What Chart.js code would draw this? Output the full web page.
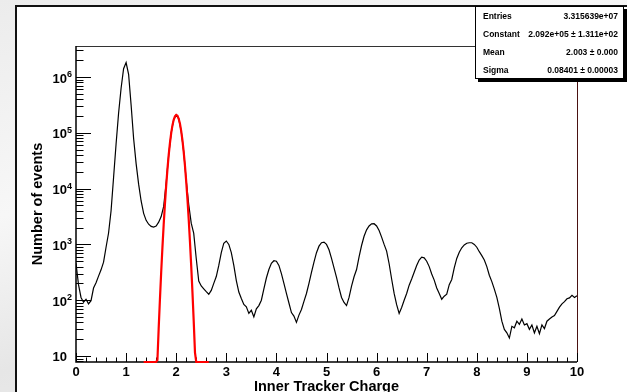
<!DOCTYPE html>
<html>
<head>
<meta charset="utf-8">
<script src="https://cdn.jsdelivr.net/npm/chart.js@4"></script>
<style>
  html, body { margin: 0; padding: 0; }
  body { width: 627px; height: 392px; overflow: hidden; position: relative;
         background: linear-gradient(160deg, #ececec, #f7f7f7 35%, #e6e6e6 60%, #f3f3f3); }
  #frame { position: absolute; left: 15px; top: 5px; width: 700px; height: 500px;
           border: 2px solid #111; background: #fff; }
  #myChart { position: absolute; left: 0; top: 0; }
</style>
</head>
<body>
<div id="frame"></div>
<canvas id="myChart" width="627" height="392"></canvas>
<script>

// DONNEES //

// histogram, bins of 0.05 from 0 to 10
const binWidth = 0.05;
const counts = [
  460, 190, 112, 92, 104, 86, 98, 165, 205, 270,
  350, 480, 890, 1600, 4000, 15800, 63000, 224000, 630000, 1410000,
  1820000, 1120000, 316000, 79000, 28000, 12000, 6000, 3600, 2700, 2300,
  2100, 2050, 2140, 2500, 3160, 4800, 12600, 40000, 100000, 172000,
  209000, 180000, 107000, 45500, 14000, 5200, 2400, 1580, 560, 220,
  180, 160, 142, 128, 150, 200, 265, 420, 710, 1050,
  1150, 1000, 710, 420, 225, 140, 107, 84, 76, 58,
  66, 50, 70, 80, 100, 160, 250, 355, 460, 510,
  500, 420, 300, 200, 132, 89, 60, 52, 40, 54,
  68, 95, 132, 200, 316, 480, 710, 930, 1070, 1100,
  1000, 800, 560, 380, 257, 166, 112, 91, 80, 112,
  178, 263, 355, 600, 955, 1400, 1820, 2140, 2340, 2350,
  2140, 1780, 1350, 1000, 760, 450, 240, 132, 83, 58,
  74, 100, 132, 186, 240, 316, 417, 525, 590, 575,
  500, 400, 295, 229, 166, 132, 104, 118, 128, 190,
  235, 380, 560, 725, 870, 980, 1050, 1070, 1070, 1000,
  890, 740, 630, 525, 400, 280, 215, 158, 112, 71,
  42, 30, 26, 21, 34, 32, 42, 37, 46, 36,
  38, 30, 36, 26, 34, 25, 36, 31, 42, 46,
  50, 53, 63, 75, 86, 94, 106, 110, 122, 112,
  120
];
const charge = counts.map((c, i) => +(i * binWidth).toFixed(2));

// gaussian fit curve (red), values under the axis floor sit on the axis
const yFloor = 7.8;
const fitCharge = [1.35, 1.6, 1.625, 1.65, 1.675, 1.7, 1.725, 1.75, 1.775, 1.8, 1.825, 1.85, 1.875, 1.9, 1.925, 1.95, 1.975,
  2.0, 2.025, 2.05, 2.075, 2.1, 2.125, 2.15, 2.175, 2.2, 2.225, 2.25, 2.275, 2.3, 2.325, 2.35, 2.375, 2.4, 2.65];
const fitCounts = [yFloor, yFloor, 8.4, 30.6, 102, 313, 877, 2245, 5262, 11290, 22160, 39800, 65500, 98700, 136000, 171500, 197900,
  209200, 202200, 178900, 144900, 107400, 72900, 45200, 25700, 13380, 6370, 2776, 1107, 404, 135, 41.3, 11.5, yFloor, yFloor];

const xTickLabels = ['0', '1', '2', '3', '4', '5', '6', '7', '8', '9', '10'];
const yTickLabels = ['10', '10^2', '10^3', '10^4', '10^5', '10^6'];

const statLabels = ['Entries', 'Constant', 'Mean', 'Sigma'];
const statValues = ['3.315639e+07', '2.092e+05 \u00b1 1.311e+02', '2.003 \u00b1 0.000', '0.08401 \u00b1 0.00003'];

const FONT = '"Liberation Sans", Arial, Helvetica, sans-serif';


// AXES FACON ROOT //

const rootStyle = {
  id: 'rootStyle',
  beforeDatasetsDraw(chart) {
    const { ctx, chartArea: a, scales: { x, y } } = chart;
    ctx.save();
    ctx.lineWidth = 1;
    ctx.strokeStyle = '#333';
    ctx.beginPath(); ctx.moveTo(a.left, a.top + 0.5); ctx.lineTo(a.right, a.top + 0.5); ctx.stroke();
    ctx.strokeStyle = '#4a1212';
    ctx.beginPath(); ctx.moveTo(a.right + 0.5, a.top); ctx.lineTo(a.right + 0.5, a.bottom); ctx.stroke();

    ctx.strokeStyle = '#000';
    ctx.lineWidth = 1.5;
    ctx.beginPath(); ctx.moveTo(a.left, a.top); ctx.lineTo(a.left, a.bottom); ctx.lineTo(a.right, a.bottom); ctx.stroke();

    // x ticks (inside)
    ctx.lineWidth = 1;
    for (let i = 0; i <= 50; i++) {
      const px = Math.round(x.getPixelForValue(i * 0.2)) + 0.5;
      const len = i % 5 === 0 ? 9 : 4.5;
      ctx.beginPath(); ctx.moveTo(px, a.bottom); ctx.lineTo(px, a.bottom - len); ctx.stroke();
    }
    // y ticks (inside), log
    for (let d = 0; d <= 6; d++) {
      for (let k = 1; k <= 9; k++) {
        const v = k * Math.pow(10, d);
        if (v < y.min || v > y.max) continue;
        const py = Math.round(y.getPixelForValue(v)) + 0.5;
        const len = k === 1 ? 15 : 7.5;
        ctx.beginPath(); ctx.moveTo(a.left, py); ctx.lineTo(a.left + len, py); ctx.stroke();
      }
    }
    ctx.restore();
  },
  afterDraw(chart) {
    const { ctx, chartArea: a, scales: { x, y } } = chart;
    ctx.save();
    ctx.fillStyle = '#000';

    // x labels
    ctx.font = 'bold 13px ' + FONT;
    ctx.textAlign = 'center';
    ctx.textBaseline = 'alphabetic';
    xTickLabels.forEach(t => {
      ctx.fillText(t, x.getPixelForValue(+t), 376);
    });

    // y labels 10^n
    yTickLabels.forEach((t, i) => {
      const py = y.getPixelForValue(Math.pow(10, i + 1));
      const parts = t.split('^');
      ctx.font = 'bold 13px ' + FONT;
      ctx.textAlign = 'right';
      ctx.fillText(parts[0], a.left - 9, py + 5.5);
      if (parts[1]) {
        ctx.font = 'bold 9px ' + FONT;
        ctx.textAlign = 'left';
        ctx.fillText(parts[1], a.left - 9, py);
      }
    });

    // titles
    ctx.font = 'bold 14.5px ' + FONT;
    ctx.textAlign = 'center';
    ctx.fillText('Inner Tracker Charge', (a.left + a.right) / 2, 391);
    ctx.save();
    ctx.translate(42, (a.top + a.bottom) / 2);
    ctx.rotate(-Math.PI / 2);
    ctx.fillText('Number of events', 0, 0);
    ctx.restore();

    // stats box
    ctx.fillStyle = '#000';
    ctx.fillRect(478, 79, 149, 3);
    ctx.fillRect(624, 9, 3, 73);
    ctx.fillStyle = '#fff';
    ctx.fillRect(475, 6, 149, 73);
    ctx.strokeStyle = '#000';
    ctx.lineWidth = 1;
    ctx.strokeRect(475.5, 6.5, 148, 72);
    ctx.fillStyle = '#000';
    ctx.font = 'bold 8.5px ' + FONT;
    statLabels.forEach((l, i) => {
      const base = 19 + i * 18;
      ctx.textAlign = 'left';
      ctx.fillText(l, 483, base);
      ctx.textAlign = 'right';
      ctx.fillText(statValues[i], 618, base);
    });
    ctx.restore();
  }
};


// GRAPHIQUE //

const ctx = document.getElementById('myChart');

new Chart(ctx, {
  type: 'line',
  data: {
    datasets: [{
      label: 'gaus',
      data: fitCharge.map((c, i) => ({ x: c, y: fitCounts[i] })),
      borderColor: '#ff0000',
      borderWidth: 2.2,
      pointRadius: 0,
      tension: 0,
      clip: 3
    }, {
      label: 'Inner Tracker Charge',
      data: charge.map((c, i) => ({ x: c, y: counts[i] })),
      borderColor: '#000000',
      borderWidth: 1.2,
      pointRadius: 0,
      tension: 0
    }]
  },
  options: {
    responsive: false,
    animation: false,
    layout: {
      padding: { left: 76, top: 46, right: 50, bottom: 30 }
    },
    plugins: {
      legend: { display: false },
      tooltip: { enabled: false }
    },
    scales: {
      x: { type: 'linear', min: 0, max: 10, display: false },
      y: { type: 'logarithmic', min: yFloor, max: 3.6e6, display: false }
    }
  },
  plugins: [rootStyle]
});

</script>
</body>
</html>
